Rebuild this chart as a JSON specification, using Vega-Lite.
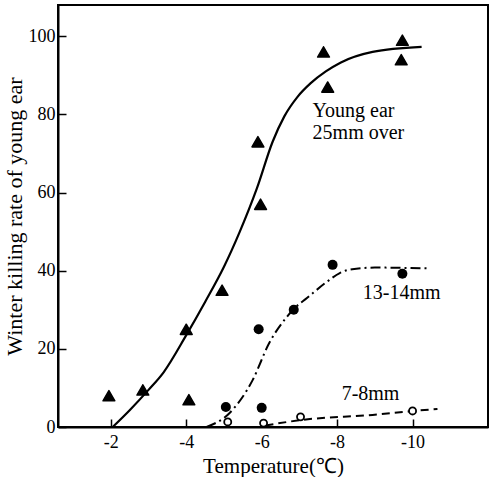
{
  "$schema": "https://vega.github.io/schema/vega-lite/v6.json",
  "width": 430,
  "height": 422,
  "autosize": "none",
  "padding": {"left": 58, "top": 5, "right": 2, "bottom": 50},
  "background": "white",
  "config": {
    "view": {"stroke": "black", "strokeWidth": 2},
    "axis": {
      "grid": false,
      "domainColor": "black",
      "domainWidth": 2,
      "tickColor": "black",
      "tickWidth": 1.5,
      "tickSize": -8,
      "labelFont": "Liberation Serif",
      "labelFontSize": 18,
      "labelColor": "black",
      "titleFont": "Liberation Serif",
      "titleFontWeight": "normal",
      "titleColor": "black"
    }
  },
  "datasets": {
    "curves": [
      {"curve": "young", "t": -2.05, "rate": 0},
      {"curve": "young", "t": -2.5, "rate": 4.3},
      {"curve": "young", "t": -3.0, "rate": 9.5},
      {"curve": "young", "t": -3.4, "rate": 14},
      {"curve": "young", "t": -4.0, "rate": 23.5},
      {"curve": "young", "t": -4.5, "rate": 32},
      {"curve": "young", "t": -5.0, "rate": 41},
      {"curve": "young", "t": -5.42, "rate": 50},
      {"curve": "young", "t": -5.87, "rate": 61},
      {"curve": "young", "t": -6.29, "rate": 73},
      {"curve": "young", "t": -6.6, "rate": 79.5},
      {"curve": "young", "t": -6.95, "rate": 84.5},
      {"curve": "young", "t": -7.3, "rate": 88},
      {"curve": "young", "t": -7.7, "rate": 91},
      {"curve": "young", "t": -8.1, "rate": 93.3},
      {"curve": "young", "t": -8.94, "rate": 96},
      {"curve": "young", "t": -10.24, "rate": 97.3},
      {"curve": "mid", "t": -4.54, "rate": 0},
      {"curve": "mid", "t": -5.15, "rate": 3.6},
      {"curve": "mid", "t": -5.76, "rate": 12},
      {"curve": "mid", "t": -6.2, "rate": 21.5},
      {"curve": "mid", "t": -6.66, "rate": 28.1},
      {"curve": "mid", "t": -6.87, "rate": 30.4},
      {"curve": "mid", "t": -7.2, "rate": 33},
      {"curve": "mid", "t": -7.72, "rate": 37.1},
      {"curve": "mid", "t": -8.07, "rate": 39.4},
      {"curve": "mid", "t": -8.4, "rate": 40.4},
      {"curve": "mid", "t": -9.0, "rate": 40.8},
      {"curve": "mid", "t": -10.37, "rate": 40.6},
      {"curve": "small", "t": -6.1, "rate": 0.4},
      {"curve": "small", "t": -7.06, "rate": 1.8},
      {"curve": "small", "t": -8.94, "rate": 3.1},
      {"curve": "small", "t": -10.0, "rate": 4.1},
      {"curve": "small", "t": -10.66, "rate": 4.6}
    ],
    "points": [
      {"series": "young", "t": -1.95, "rate": 8},
      {"series": "young", "t": -2.85, "rate": 9.5},
      {"series": "young", "t": -4.0, "rate": 25},
      {"series": "young", "t": -4.07, "rate": 7},
      {"series": "young", "t": -4.95, "rate": 35},
      {"series": "young", "t": -5.9, "rate": 73},
      {"series": "young", "t": -5.97, "rate": 57},
      {"series": "young", "t": -7.64, "rate": 96},
      {"series": "young", "t": -7.75, "rate": 87},
      {"series": "young", "t": -9.73, "rate": 99},
      {"series": "young", "t": -9.7, "rate": 94},
      {"series": "mid", "t": -5.05, "rate": 5.1},
      {"series": "mid", "t": -5.92, "rate": 25},
      {"series": "mid", "t": -6.0, "rate": 4.9},
      {"series": "mid", "t": -6.85, "rate": 30},
      {"series": "mid", "t": -7.88, "rate": 41.5},
      {"series": "mid", "t": -9.73, "rate": 39.2},
      {"series": "small", "t": -5.1, "rate": 1.3},
      {"series": "small", "t": -6.05, "rate": 1.0},
      {"series": "small", "t": -7.03, "rate": 2.6},
      {"series": "small", "t": -10.0, "rate": 4.1}
    ],
    "labels": [
      {"t": -7.35, "rate": 80.8, "text": "Young ear"},
      {"t": -7.35, "rate": 75.3, "text": "25mm over"},
      {"t": -8.68, "rate": 34.3, "text": "13-14mm"},
      {"t": -8.12, "rate": 8.4, "text": "7-8mm"}
    ]
  },
  "encoding": {
    "x": {
      "field": "t",
      "type": "quantitative",
      "scale": {"domain": [-12, -0.6], "reverse": true, "nice": false, "zero": false},
      "axis": {
        "values": [-2, -4, -6, -8, -10],
        "labelExpr": "'-' + abs(datum.value)",
        "labelPadding": 14,
        "title": "Temperature(℃)",
        "titleFontSize": 21,
        "titlePadding": 4
      }
    },
    "y": {
      "field": "rate",
      "type": "quantitative",
      "scale": {"domain": [0, 108], "nice": false},
      "axis": {
        "values": [0, 20, 40, 60, 80, 100],
        "labelPadding": 11,
        "title": "Winter killing rate of young ear",
        "titleFontSize": 22,
        "titlePadding": 2
      }
    }
  },
  "layer": [
    {
      "data": {"name": "curves"},
      "transform": [{"filter": "datum.curve == 'young'"}],
      "mark": {"type": "line", "color": "black", "strokeWidth": 2.2, "interpolate": "monotone"}
    },
    {
      "data": {"name": "curves"},
      "transform": [{"filter": "datum.curve == 'mid'"}],
      "mark": {"type": "line", "color": "black", "strokeWidth": 2, "interpolate": "monotone", "strokeDash": [10, 4, 2, 4]}
    },
    {
      "data": {"name": "curves"},
      "transform": [{"filter": "datum.curve == 'small'"}],
      "mark": {"type": "line", "color": "black", "strokeWidth": 2, "interpolate": "monotone", "strokeDash": [8, 5]}
    },
    {
      "data": {"name": "points"},
      "transform": [{"filter": "datum.series == 'young'"}],
      "mark": {"type": "point", "shape": "triangle-up", "filled": true, "color": "black", "opacity": 1, "size": 140, "strokeJoin": "round", "stroke": "black", "strokeWidth": 1.5}
    },
    {
      "data": {"name": "points"},
      "transform": [{"filter": "datum.series == 'mid'"}],
      "mark": {"type": "point", "shape": "circle", "filled": true, "color": "black", "opacity": 1, "size": 100}
    },
    {
      "data": {"name": "points"},
      "transform": [{"filter": "datum.series == 'small'"}],
      "mark": {"type": "point", "shape": "circle", "filled": true, "fill": "white", "stroke": "black", "strokeWidth": 1.8, "opacity": 1, "size": 50}
    },
    {
      "data": {"name": "labels"},
      "mark": {"type": "text", "align": "left", "baseline": "middle", "font": "Liberation Serif", "fontSize": 20, "color": "black"},
      "encoding": {"text": {"field": "text"}}
    }
  ]
}
